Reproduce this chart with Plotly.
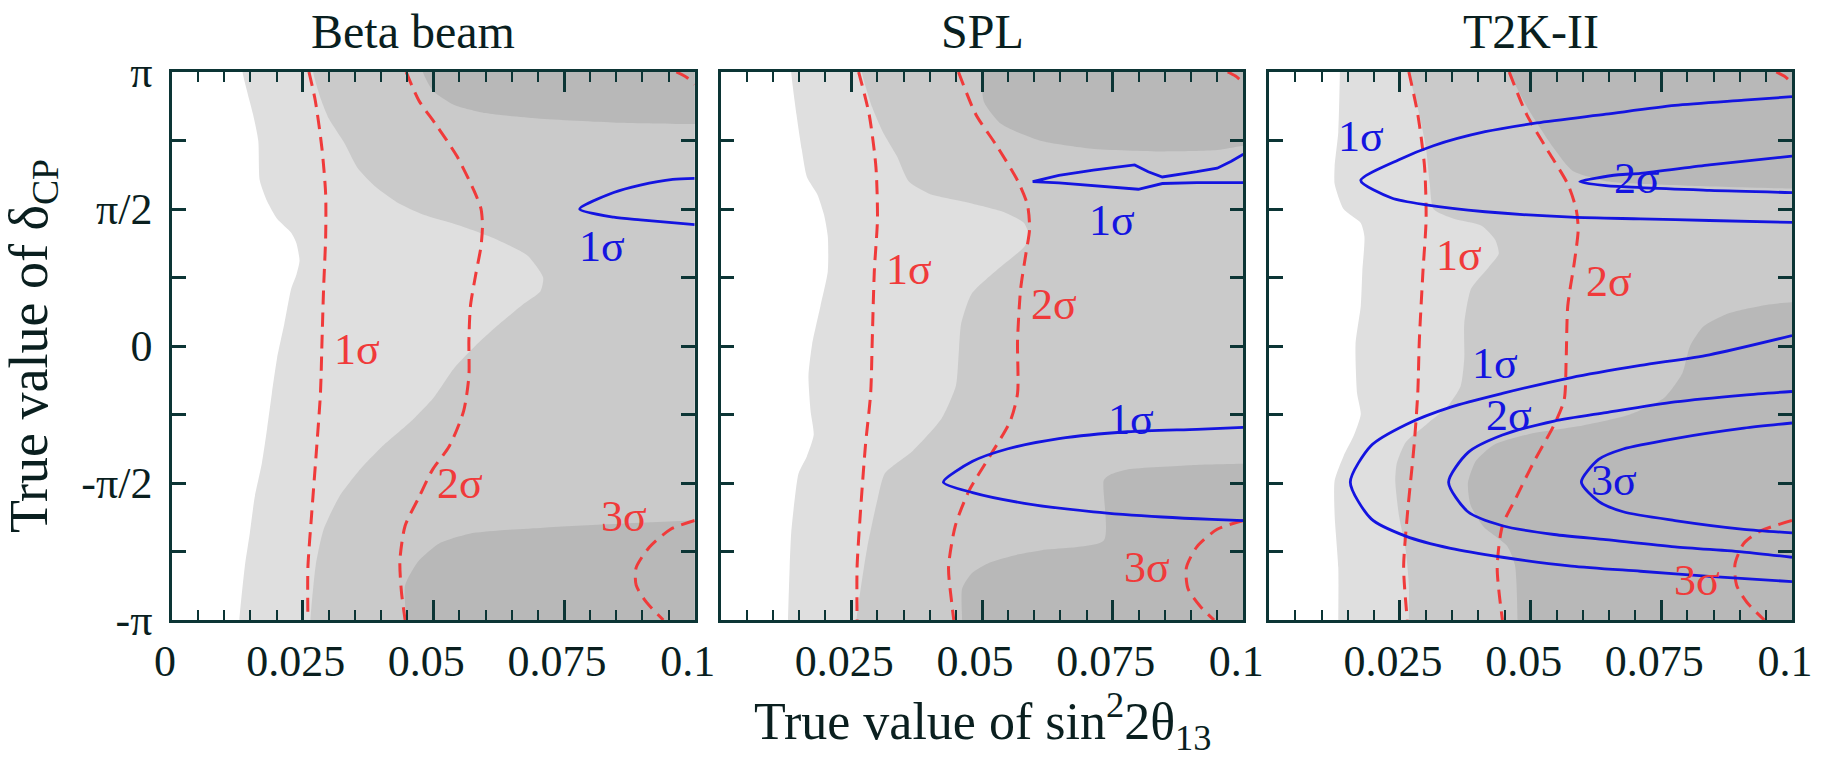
import plotly.graph_objects as go

# ---------------- axes ----------------
X_MIN, X_MAX = 0.0, 0.1
D_MIN, D_MAX = -1.0, 1.0          # delta_CP in units of pi
panel_titles = ["Beta beam", "SPL", "T2K-II"]
x_tickvals = [0, 0.025, 0.05, 0.075, 0.1]
x_ticktext_first = ["0", "0.025", "0.05", "0.075", "0.1"]
x_ticktext_other = ["", "0.025", "0.05", "0.075", "0.1"]
y_tickvals = [-1, -0.75, -0.5, -0.25, 0, 0.25, 0.5, 0.75, 1]
y_ticktext = ["-π", "", "-π/2", "", "0", "", "π/2", "", "π"]

# ---------------- Beta beam ----------------
beta_light_x = [0.0135, 0.0155, 0.0165, 0.0168, 0.0182, 0.0201, 0.0228, 0.0238, 0.0244, 0.0238, 0.0228, 0.0215, 0.0201, 0.0191, 0.0182, 0.0172, 0.0158, 0.0149, 0.0139, 0.0129]
beta_light_d = [1.0, 0.846, 0.75, 0.604, 0.528, 0.464, 0.413, 0.375, 0.311, 0.26, 0.209, 0.082, -0.045, -0.173, -0.30, -0.427, -0.554, -0.682, -0.809, -1.0]
beta_med_x = [0.027, 0.0285, 0.030, 0.033, 0.0355, 0.039, 0.043, 0.048, 0.055, 0.062, 0.068, 0.071, 0.0705, 0.067, 0.062, 0.058, 0.054, 0.050, 0.046, 0.040, 0.036, 0.032, 0.029, 0.0275, 0.0265]
beta_med_d = [1.0, 0.90, 0.83, 0.74, 0.65, 0.58, 0.525, 0.48, 0.44, 0.39, 0.33, 0.25, 0.20, 0.15, 0.07, 0.0, -0.08, -0.19, -0.27, -0.37, -0.45, -0.55, -0.67, -0.80, -1.0]
beta_darktop_x = [0.048, 0.050, 0.054, 0.060, 0.070, 0.085, 0.1]
beta_darktop_d = [1.0, 0.93, 0.88, 0.85, 0.83, 0.815, 0.81]
beta_darkbot_x = [0.0448, 0.0446, 0.0472, 0.0512, 0.0578, 0.071, 0.0842, 0.1]
beta_darkbot_d = [-1.0, -0.873, -0.784, -0.72, -0.682, -0.663, -0.65, -0.637]
beta_r1_x = [0.0262, 0.0274, 0.0287, 0.0294, 0.0294, 0.029, 0.0287, 0.0284, 0.0277, 0.0267, 0.026, 0.026]
beta_r1_d = [1.0, 0.897, 0.719, 0.553, 0.4, 0.209, 0.018, -0.173, -0.364, -0.618, -0.809, -1.0]
beta_r2_x = [0.0448, 0.0472, 0.0505, 0.0545, 0.0578, 0.0591, 0.0594, 0.0591, 0.0581, 0.0571, 0.0568, 0.0568, 0.0558, 0.0531, 0.0498, 0.0472, 0.0446, 0.0436, 0.0439, 0.0446]
beta_r2_d = [1.0, 0.897, 0.808, 0.693, 0.566, 0.502, 0.439, 0.362, 0.26, 0.146, 0.018, -0.11, -0.237, -0.364, -0.453, -0.554, -0.656, -0.784, -0.898, -1.0]
beta_r3_x = [0.1, 0.0954, 0.0914, 0.0888, 0.0888, 0.0908, 0.094]
beta_r3_d = [-0.637, -0.669, -0.733, -0.809, -0.873, -0.936, -1.0]
beta_r3top_x = [0.0965, 0.0985, 0.1]
beta_r3top_d = [1.0, 0.98, 0.955]
beta_b1_x = [0.1, 0.0958, 0.0896, 0.0845, 0.078, 0.0845, 0.0896, 0.1]
beta_b1_d = [0.612, 0.608, 0.587, 0.56, 0.5, 0.47, 0.46, 0.443]
beta_labels = [("1σ", 0.0353, -0.013, "red"), ("2σ", 0.0551, -0.503, "red"),
               ("3σ", 0.0865, -0.624, "red"), ("1σ", 0.0822, 0.362, "blue")]

# ---------------- SPL ----------------
spl_light_x = [0.0135, 0.0145, 0.0155, 0.0165, 0.0185, 0.0198, 0.0205, 0.0205, 0.0191, 0.0175, 0.0168, 0.0172, 0.0178, 0.0165, 0.0149, 0.0142, 0.0135, 0.0132, 0.0129]
spl_light_d = [1.0, 0.846, 0.719, 0.617, 0.553, 0.477, 0.4, 0.273, 0.146, 0.006, -0.109, -0.236, -0.325, -0.402, -0.465, -0.554, -0.682, -0.809, -1.0]
spl_med_x = [0.027, 0.029, 0.031, 0.0337, 0.036, 0.040, 0.047, 0.054, 0.058, 0.059, 0.058, 0.053, 0.048, 0.046, 0.0455, 0.045, 0.0423, 0.0368, 0.0314, 0.030, 0.028, 0.026]
spl_med_d = [1.0, 0.871, 0.782, 0.693, 0.60, 0.555, 0.525, 0.49, 0.45, 0.40, 0.36, 0.28, 0.19, 0.08, -0.04, -0.146, -0.264, -0.382, -0.465, -0.56, -0.74, -1.0]
spl_darktop_x = [0.0498, 0.0504, 0.0537, 0.061, 0.071, 0.0845, 0.095, 0.1]
spl_darktop_d = [1.0, 0.89, 0.81, 0.75, 0.72, 0.71, 0.715, 0.73]
spl_darkbot_x = [0.0462, 0.0462, 0.048, 0.0515, 0.057, 0.0614, 0.0733, 0.0733, 0.0745, 0.078, 0.09, 0.1]
spl_darkbot_d = [-1.0, -0.885, -0.83, -0.79, -0.76, -0.745, -0.71, -0.49, -0.47, -0.45, -0.435, -0.43]
spl_r1_x = [0.0264, 0.0284, 0.0297, 0.030, 0.0294, 0.029, 0.0287, 0.0277, 0.0267, 0.0261, 0.0261]
spl_r1_d = [1.0, 0.846, 0.655, 0.464, 0.273, 0.018, -0.173, -0.363, -0.618, -0.809, -1.0]
spl_r2_x = [0.0455, 0.0488, 0.0528, 0.0568, 0.0587, 0.0591, 0.0584, 0.0574, 0.0568, 0.0568, 0.0554, 0.0515, 0.0475, 0.0449, 0.0436, 0.0442, 0.0446]
spl_r2_d = [1.0, 0.846, 0.731, 0.604, 0.515, 0.426, 0.337, 0.21, 0.018, -0.173, -0.274, -0.402, -0.529, -0.656, -0.809, -0.936, -1.0]
spl_r3_x = [0.1, 0.095, 0.0911, 0.0891, 0.0894, 0.0917, 0.0944]
spl_r3_d = [-0.637, -0.669, -0.733, -0.809, -0.885, -0.949, -1.0]
spl_r3top_x = [0.097, 0.0985, 0.1]
spl_r3top_d = [1.0, 0.985, 0.96]
spl_b1up_x = [0.1, 0.0977, 0.095, 0.0911, 0.0845, 0.0818, 0.0792, 0.0713, 0.0647, 0.0597, 0.0647, 0.0713, 0.0799, 0.0845, 0.0911, 0.1]
spl_b1up_d = [0.70, 0.674, 0.649, 0.636, 0.617, 0.636, 0.661, 0.642, 0.623, 0.60, 0.595, 0.585, 0.572, 0.593, 0.596, 0.596]
spl_b1lo_x = [0.1, 0.0911, 0.0779, 0.0647, 0.0548, 0.0482, 0.0426, 0.0482, 0.0581, 0.0713, 0.0845, 0.094, 0.1]
spl_b1lo_d = [-0.297, -0.304, -0.313, -0.338, -0.376, -0.421, -0.497, -0.535, -0.574, -0.605, -0.624, -0.633, -0.637]
spl_labels = [("1σ", 0.036, 0.28, "red"), ("2σ", 0.0637, 0.152, "red"),
              ("1σ", 0.0749, 0.458, "blue"), ("1σ", 0.0785, -0.268, "blue"),
              ("3σ", 0.0815, -0.809, "red")]

# ---------------- T2K-II ----------------
t2k_light_x = [0.0135, 0.0132, 0.0125, 0.0125, 0.0142, 0.0175, 0.0182, 0.0178, 0.0175, 0.0165, 0.0168, 0.0175, 0.0162, 0.0142, 0.0125, 0.0125, 0.0132, 0.0132]
t2k_light_d = [1.0, 0.782, 0.655, 0.591, 0.5, 0.449, 0.4, 0.273, 0.146, 0.006, -0.173, -0.249, -0.325, -0.402, -0.491, -0.618, -0.809, -1.0]
t2k_med_x = [0.0267, 0.0287, 0.030, 0.0307, 0.0314, 0.0353, 0.0406, 0.0432, 0.0439, 0.0419, 0.0386, 0.0373, 0.0373, 0.0366, 0.034, 0.030, 0.0261, 0.0244, 0.0241, 0.0248, 0.0261, 0.0267, 0.0267]
t2k_med_d = [1.0, 0.846, 0.719, 0.591, 0.5, 0.464, 0.439, 0.388, 0.337, 0.286, 0.209, 0.082, -0.045, -0.147, -0.223, -0.287, -0.351, -0.427, -0.491, -0.618, -0.745, -0.873, -1.0]
t2k_darktop_x = [0.046, 0.050, 0.0545, 0.058, 0.065, 0.08, 0.1]
t2k_darktop_d = [1.0, 0.85, 0.72, 0.64, 0.60, 0.585, 0.575]
t2k_darkbot_x = [0.1, 0.095, 0.088, 0.083, 0.0805, 0.079, 0.0755, 0.069, 0.06, 0.05, 0.043, 0.0395, 0.038, 0.0385, 0.041, 0.0455, 0.047, 0.0475]
t2k_darkbot_d = [0.16, 0.15, 0.12, 0.07, 0.0, -0.1, -0.19, -0.25, -0.29, -0.32, -0.36, -0.42, -0.5, -0.58, -0.66, -0.73, -0.8, -1.0]
t2k_r1_x = [0.0267, 0.0284, 0.0297, 0.030, 0.0294, 0.0287, 0.0284, 0.0277, 0.0264, 0.0257, 0.0264]
t2k_r1_d = [1.0, 0.846, 0.655, 0.464, 0.273, 0.018, -0.173, -0.363, -0.618, -0.809, -1.0]
t2k_r2_x = [0.0459, 0.0492, 0.0531, 0.0571, 0.0587, 0.0591, 0.0584, 0.0571, 0.0568, 0.0564, 0.0545, 0.0505, 0.0472, 0.0446, 0.0436, 0.0446]
t2k_r2_d = [1.0, 0.846, 0.719, 0.591, 0.5, 0.426, 0.311, 0.146, -0.045, -0.198, -0.287, -0.427, -0.554, -0.656, -0.809, -1.0]
t2k_r3_x = [0.1, 0.094, 0.0908, 0.0891, 0.0894, 0.0914, 0.0947]
t2k_r3_d = [-0.637, -0.675, -0.72, -0.796, -0.873, -0.936, -1.0]
t2k_r3top_x = [0.097, 0.0985, 0.1]
t2k_r3top_d = [1.0, 0.985, 0.96]
t2k_b1up_x = [0.1, 0.0908, 0.0776, 0.0644, 0.0512, 0.0413, 0.0314, 0.0248, 0.0175, 0.0234, 0.030, 0.0413, 0.0578, 0.071, 0.0842, 0.1]
t2k_b1up_d = [0.91, 0.897, 0.878, 0.846, 0.814, 0.782, 0.731, 0.68, 0.604, 0.54, 0.515, 0.49, 0.47, 0.464, 0.458, 0.451]
t2k_b2up_x = [0.1, 0.0842, 0.071, 0.0668, 0.0594, 0.0644, 0.0842, 0.1]
t2k_b2up_d = [0.693, 0.661, 0.63, 0.625, 0.60, 0.585, 0.568, 0.56]
t2k_b1lo_x = [0.1, 0.0842, 0.071, 0.0578, 0.0446, 0.0347, 0.0261, 0.0195, 0.0155, 0.0195, 0.0261, 0.0347, 0.0446, 0.0578, 0.071, 0.0842, 0.1]
t2k_b1lo_d = [0.038, -0.032, -0.071, -0.115, -0.173, -0.223, -0.287, -0.363, -0.497, -0.631, -0.694, -0.739, -0.771, -0.803, -0.822, -0.841, -0.86]
t2k_b2lo_x = [0.1, 0.0908, 0.0776, 0.0644, 0.0545, 0.0446, 0.038, 0.0343, 0.038, 0.0446, 0.0545, 0.0644, 0.0776, 0.0908, 0.1]
t2k_b2lo_d = [-0.166, -0.179, -0.204, -0.243, -0.274, -0.325, -0.389, -0.497, -0.605, -0.656, -0.688, -0.707, -0.733, -0.752, -0.771]
t2k_b3lo_x = [0.1, 0.0908, 0.0776, 0.0677, 0.063, 0.0597, 0.063, 0.0677, 0.0776, 0.0908, 0.1]
t2k_b3lo_d = [-0.281, -0.3, -0.338, -0.376, -0.414, -0.497, -0.567, -0.605, -0.637, -0.669, -0.682]
t2k_labels = [("1σ", 0.0175, 0.763, "blue"), ("2σ", 0.0703, 0.61, "blue"),
              ("1σ", 0.0363, 0.33, "red"), ("2σ", 0.065, 0.235, "red"),
              ("1σ", 0.0432, -0.064, "blue"), ("2σ", 0.0459, -0.255, "blue"),
              ("3σ", 0.066, -0.49, "blue"), ("3σ", 0.0818, -0.854, "red")]

# ---------------- styles ----------------
FONT = "Times New Roman, Liberation Serif, serif"
C_LIGHT, C_MED, C_DARK = "#dfdfdf", "#cacaca", "#b8b8b8"
C_RED, C_BLUE = "#f03a3a", "#1414e0"
C_AXIS = "#0c3535"
C_TEXT = "#0a1f1f"
PAD = 0.05

panels = [
    dict(light=(beta_light_x, beta_light_d), med=(beta_med_x, beta_med_d),
         dtop=(beta_darktop_x, beta_darktop_d), dbot=(beta_darkbot_x, beta_darkbot_d),
         red=[(beta_r1_x, beta_r1_d), (beta_r2_x, beta_r2_d), (beta_r3_x, beta_r3_d), (beta_r3top_x, beta_r3top_d)],
         blue=[(beta_b1_x, beta_b1_d, "spline")], labels=beta_labels, title_shift=-20),
    dict(light=(spl_light_x, spl_light_d), med=(spl_med_x, spl_med_d),
         dtop=(spl_darktop_x, spl_darktop_d), dbot=(spl_darkbot_x, spl_darkbot_d),
         red=[(spl_r1_x, spl_r1_d), (spl_r2_x, spl_r2_d), (spl_r3_x, spl_r3_d), (spl_r3top_x, spl_r3top_d)],
         blue=[(spl_b1up_x, spl_b1up_d, "linear"), (spl_b1lo_x, spl_b1lo_d, "spline")], labels=spl_labels,
         title_shift=0),
    dict(light=(t2k_light_x, t2k_light_d), med=(t2k_med_x, t2k_med_d),
         dtop=(t2k_darktop_x, t2k_darktop_d), dbot=(t2k_darkbot_x, t2k_darkbot_d),
         red=[(t2k_r1_x, t2k_r1_d), (t2k_r2_x, t2k_r2_d), (t2k_r3_x, t2k_r3_d), (t2k_r3top_x, t2k_r3top_d)],
         blue=[(t2k_b1up_x, t2k_b1up_d, "spline"), (t2k_b2up_x, t2k_b2up_d, "spline"),
               (t2k_b1lo_x, t2k_b1lo_d, "spline"), (t2k_b2lo_x, t2k_b2lo_d, "spline"),
               (t2k_b3lo_x, t2k_b3lo_d, "spline")], labels=t2k_labels, title_shift=0),
]


def band_right(xs, ds):
    """Region right of a top-to-bottom boundary."""
    px = [xs[0]] + list(xs) + [xs[-1], X_MAX + PAD, X_MAX + PAD]
    py = [D_MAX + PAD] + list(ds) + [D_MIN - PAD, D_MIN - PAD, D_MAX + PAD]
    return px, py


def corner_top(xs, ds):
    px = [xs[0]] + list(xs) + [X_MAX + PAD, X_MAX + PAD]
    py = [D_MAX + PAD] + list(ds) + [ds[-1], D_MAX + PAD]
    return px, py


def corner_bottom(xs, ds, start_bottom=True):
    if start_bottom:
        px = [xs[0]] + list(xs) + [X_MAX + PAD, X_MAX + PAD]
        py = [D_MIN - PAD] + list(ds) + [ds[-1], D_MIN - PAD]
    else:
        px = [X_MAX + PAD] + list(xs) + [xs[-1], X_MAX + PAD]
        py = [ds[0]] + list(ds) + [D_MIN - PAD, D_MIN - PAD]
    return px, py


fig = go.Figure()
ML, MR, MT, MB = 172, 30, 72, 138
total_w = 1825 - ML - MR
gap = 26
pw = (total_w - 2 * gap) / 3

for i, p in enumerate(panels):
    xa = "x" if i == 0 else f"x{i + 1}"
    ya = "y" if i == 0 else f"y{i + 1}"
    fills = [
        (band_right(*p["light"]), C_LIGHT),
        (band_right(*p["med"]), C_MED),
        (corner_top(*p["dtop"]), C_DARK),
        (corner_bottom(*p["dbot"], start_bottom=(i != 2)), C_DARK),
    ]
    for (px, py), col in fills:
        fig.add_trace(go.Scatter(x=px, y=py, xaxis=xa, yaxis=ya, mode="lines",
                                 fill="toself", fillcolor=col,
                                 line=dict(width=0, color=col, shape="spline", smoothing=0.6),
                                 hoverinfo="skip"))
    for rx, rd in p["red"]:
        fig.add_trace(go.Scatter(x=rx, y=rd, xaxis=xa, yaxis=ya, mode="lines",
                                 line=dict(color=C_RED, width=3, dash="14px,8px",
                                           shape="spline", smoothing=0.7),
                                 hoverinfo="skip"))
    for bx, bd, shp in p["blue"]:
        fig.add_trace(go.Scatter(x=bx, y=bd, xaxis=xa, yaxis=ya, mode="lines",
                                 line=dict(color=C_BLUE, width=2.8, shape=shp, smoothing=0.7),
                                 hoverinfo="skip"))
    for txt, lx, ld, c in p["labels"]:
        fig.add_annotation(x=lx, y=ld, xref=xa, yref=ya, text=txt, showarrow=False,
                           xanchor="center", yanchor="middle",
                           font=dict(family=FONT, size=44, color=C_RED if c == "red" else C_BLUE))
    fig.add_annotation(x=0.5, y=1, xref=f"{xa} domain", yref="paper", text=panel_titles[i],
                       showarrow=False, xanchor="center", yanchor="bottom", yshift=12,
                       xshift=p["title_shift"],
                       font=dict(family=FONT, size=48, color=C_TEXT))

    x0 = i * (pw + gap) / total_w
    x1 = (i * (pw + gap) + pw) / total_w
    xax = dict(domain=[max(0, x0), min(1, x1)], range=[X_MIN, X_MAX], anchor=ya,
               showline=True, linecolor=C_AXIS, linewidth=2.5, mirror="allticks",
               ticks="inside", ticklen=20, tickwidth=2.5, tickcolor=C_AXIS,
               tickvals=x_tickvals,
               ticktext=x_ticktext_first if i == 0 else x_ticktext_other,
               tickfont=dict(family=FONT, size=44, color=C_TEXT),
               ticklabelstandoff=0, ticklabelshift=-7,
               minor=dict(tick0=0, dtick=0.005, ticks="inside", ticklen=10, tickwidth=2,
                          tickcolor=C_AXIS),
               showgrid=False, zeroline=False, fixedrange=True)
    yax = dict(domain=[0, 1], range=[D_MIN, D_MAX], anchor=xa,
               showline=True, linecolor=C_AXIS, linewidth=2.5, mirror="allticks",
               ticks="inside", ticklen=14, tickwidth=2.5, tickcolor=C_AXIS,
               tickvals=y_tickvals, ticktext=y_ticktext, showticklabels=(i == 0),
               tickfont=dict(family=FONT, size=44, color=C_TEXT),
               ticklabelstandoff=8,
               showgrid=False, zeroline=False, fixedrange=True)
    fig.update_layout(**{("xaxis" if i == 0 else f"xaxis{i + 1}"): xax,
                         ("yaxis" if i == 0 else f"yaxis{i + 1}"): yax})

fig.add_annotation(x=0, y=0.5, xref="paper", yref="paper", xshift=-140, xanchor="center",
                   yanchor="middle", textangle=-90,
                   text="True value of δ<sub>CP</sub>", showarrow=False,
                   font=dict(family=FONT, size=54, color=C_TEXT))
fig.add_annotation(x=0.5, y=0, xref="paper", yref="paper", yshift=-101, xanchor="center",
                   yanchor="middle",
                   text="True value of sin<sup>2</sup>2θ<sub>13</sub>", showarrow=False,
                   font=dict(family=FONT, size=52, color=C_TEXT))

fig.update_layout(width=1825, height=758, showlegend=False,
                  margin=dict(l=ML, r=MR, t=MT, b=MB),
                  plot_bgcolor="white", paper_bgcolor="white")

fig.write_html("out.html")
